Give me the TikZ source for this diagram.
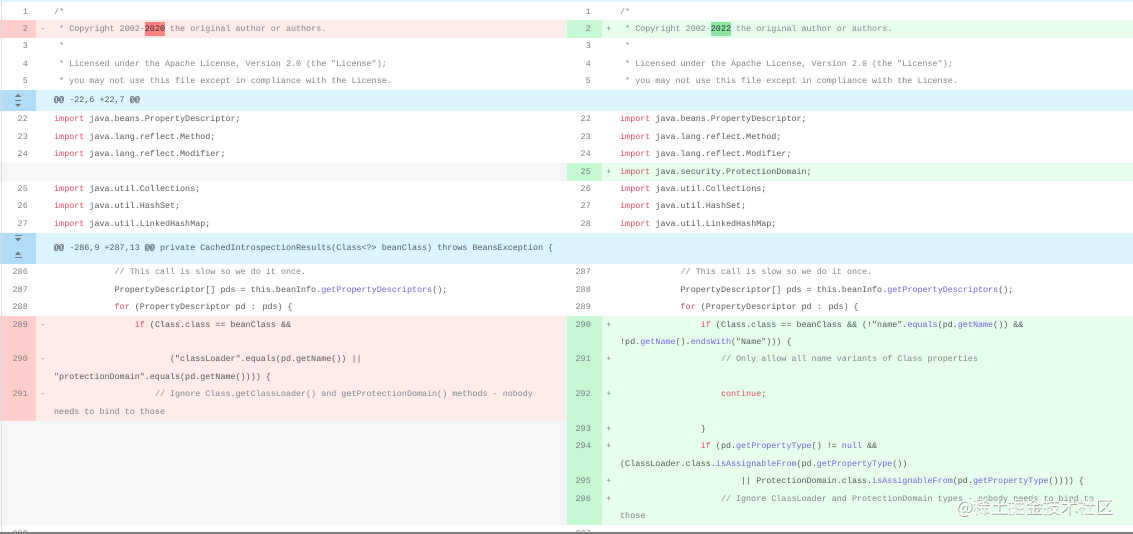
\documentclass[tikz,border=0pt]{standalone}
\usepackage{fontspec}
\newfontfamily\codefont{Liberation Mono}
\newfontfamily\cjkfont{Noto Sans CJK SC}
\definecolor{delbg}{HTML}{FFEBE9}
\definecolor{delnum}{HTML}{FFCECB}
\definecolor{delhl}{HTML}{FF8182}
\definecolor{addbg}{HTML}{E6FFEC}
\definecolor{addnum}{HTML}{C6F7D2}
\definecolor{addhl}{HTML}{8EE6A4}
\definecolor{hunkbg}{HTML}{DDF4FF}
\definecolor{hunknum}{HTML}{B0DCFA}
\definecolor{emptybg}{HTML}{F4F6F8}
\definecolor{codegray}{HTML}{50565C}
\definecolor{cmtgray}{HTML}{7A828A}
\definecolor{numgray}{HTML}{737B83}
\definecolor{kwred}{HTML}{D9485F}
\definecolor{mthblue}{HTML}{6F5FD8}
\definecolor{edgegray}{HTML}{7F7F7F}
\definecolor{bordergray}{HTML}{D8DEE4}
\definecolor{hltext}{HTML}{2A2E33}
\newcommand{\kw}[1]{{\color{kwred}#1}}
\newcommand{\mth}[1]{{\color{mthblue}#1}}
\newcommand{\hlt}[1]{{\color{hltext}#1}}
\def\chw{5.04}
\tikzset{
  codetext/.style={anchor=west, inner sep=0pt, text height=6pt, text depth=1.7pt,
    font=\codefont\fontsize{8.4}{10}\selectfont, text=codegray},
  cmt/.style={codetext, text=cmtgray},
  lnum/.style={codetext, anchor=east, text=numgray},
  sign/.style={codetext, anchor=center, text=numgray},
  foldicon/.style={fill=codegray!80, draw=none},
}
\begin{document}
\begin{tikzpicture}[x=1pt,y=-1pt]
            \useasboundingbox (0,0) rectangle (1133,534);
            % row backgrounds
            \fill[white] (0,0) rectangle (1133,534);
            \fill[hunkbg] (0,0) rectangle (1133,2.5);
            \fill[delbg] (0,20.5) rectangle (566,38);
            \fill[delnum] (0,20.5) rectangle (36,38);
            \fill[addbg] (566,20.5) rectangle (1133,38);
            \fill[addnum] (567,20.5) rectangle (602,38);
            \fill[hunkbg] (0,90) rectangle (1133,111);
            \fill[hunknum] (0,90) rectangle (36,111);
            \fill[emptybg] (0,163.2) rectangle (566,180.6);
            \fill[addbg] (566,163.2) rectangle (1133,180.6);
            \fill[addnum] (567,163.2) rectangle (602,180.6);
            \fill[hunkbg] (0,232.8) rectangle (1133,264);
            \fill[hunknum] (0,232.8) rectangle (36,264);
            \fill[delbg] (0,316.2) rectangle (566,420.6);
            \fill[delnum] (0,316.2) rectangle (36,420.6);
            \fill[emptybg] (0,420.6) rectangle (566,525);
            \fill[addbg] (566,316.2) rectangle (1133,525);
            \fill[addnum] (567,316.2) rectangle (602,525);
            \draw[bordergray, line width=0.8pt] (1.5,2.5) -- (1.5,532);
            % changed year
            \fill[delhl] (54+18*\chw,22.5) rectangle (54+22*\chw,36);
            \fill[addhl] (620+18*\chw,22.5) rectangle (620+22*\chw,36);
            % fold icons
            \fill[foldicon] (15,97) -- (21,97) -- (18,94) -- cycle;
            \fill[foldicon] (15,100) rectangle (21,100.8);
            \fill[foldicon] (15,103.8) -- (21,103.8) -- (18,106.8) -- cycle;
            \fill[foldicon] (14.5,235) rectangle (21.5,235.8);
            \fill[foldicon] (15,238) -- (21,238) -- (18,241.5) -- cycle;
            \fill[foldicon] (15,255) -- (21,255) -- (18,251.5) -- cycle;
            \fill[foldicon] (14.5,257.5) rectangle (21.5,258.3);
            % left side
            \node[lnum] (nl1) at (28,12) {1};
            \node[lnum] (nl2) at (28,29.3) {2};
            \node[lnum] (nl3) at (28,46.6) {3};
            \node[lnum] (nl4) at (28,63.9) {4};
            \node[lnum] (nl5) at (28,81.2) {5};
            \node[lnum] (nl22) at (28,119.7) {22};
            \node[lnum] (nl23) at (28,137.1) {23};
            \node[lnum] (nl24) at (28,154.5) {24};
            \node[lnum] (nl25) at (28,189.3) {25};
            \node[lnum] (nl26) at (28,206.7) {26};
            \node[lnum] (nl27) at (28,224.1) {27};
            \node[lnum] (nl286) at (28,272.7) {286};
            \node[lnum] (nl287) at (28,290.1) {287};
            \node[lnum] (nl288) at (28,307.5) {288};
            \node[lnum] (nl289) at (28,324.9) {289};
            \node[lnum] (nl290) at (28,359.7) {290};
            \node[lnum] (nl291) at (28,394.5) {291};
            \node[lnum] (nl303) at (28,534) {303};
            \node[sign] (sl2) at (43,29.3) {-};
            \node[sign] (sl289) at (43,324.9) {-};
            \node[sign] (sl290) at (43,359.7) {-};
            \node[sign] (sl291) at (43,394.5) {-};
            \node[cmt] (cl1) at (54,12) {/*};
            \node[cmt] (cl2) at (54+\chw,29.3) {* Copyright 2002-\hlt{2020} the original author or authors.};
            \node[cmt] (cl3) at (54+\chw,46.6) {*};
            \node[cmt] (cl4) at (54+\chw,63.9) {* Licensed under the Apache License, Version 2.0 (the "License");};
            \node[cmt] (cl5) at (54+\chw,81.2) {* you may not use this file except in compliance with the License.};
            \node[codetext] (hl1) at (54,100.5) {\hlt{@@} -22,6 +22,7 \hlt{@@}};
            \node[codetext] (cl22) at (54,119.7) {\kw{import} java.beans.PropertyDescriptor;};
            \node[codetext] (cl23) at (54,137.1) {\kw{import} java.lang.reflect.Method;};
            \node[codetext] (cl24) at (54,154.5) {\kw{import} java.lang.reflect.Modifier;};
            \node[codetext] (cl25) at (54,189.3) {\kw{import} java.util.Collections;};
            \node[codetext] (cl26) at (54,206.7) {\kw{import} java.util.HashSet;};
            \node[codetext] (cl27) at (54,224.1) {\kw{import} java.util.LinkedHashMap;};
            \node[codetext] (hl2) at (54,248.4) {\hlt{@@} -286,9 +287,13 \hlt{@@} private CachedIntrospectionResults(Class<?> beanClass) throws BeansException \{};
            \node[cmt] (cl286) at (54+12*\chw,272.7) {// This call is slow so we do it once.};
            \node[codetext] (cl287) at (54+12*\chw,290.1) {PropertyDescriptor[] pds = this.beanInfo.\mth{getPropertyDescriptors}();};
            \node[codetext] (cl288) at (54+12*\chw,307.5) {\kw{for} (PropertyDescriptor pd : pds) \{};
            \node[codetext] (cl289) at (54+16*\chw,324.9) {\kw{if} (Class.class == beanClass \&\&};
            \node[codetext] (cl290) at (54+23*\chw,359.7) {("classLoader".equals(pd.getName()) ||};
            \node[codetext] (cl290b) at (54,377.1) {"protectionDomain".equals(pd.getName()))) \{};
            \node[cmt] (cl291) at (54+20*\chw,394.5) {// Ignore Class.getClassLoader() and getProtectionDomain() methods - nobody};
            \node[cmt] (cl291b) at (54,411.9) {needs to bind to those};
            % right side
            \node[lnum] (nr1) at (591,12) {1};
            \node[lnum] (nr2) at (591,29.3) {2};
            \node[lnum] (nr3) at (591,46.6) {3};
            \node[lnum] (nr4) at (591,63.9) {4};
            \node[lnum] (nr5) at (591,81.2) {5};
            \node[lnum] (nr22) at (591,119.7) {22};
            \node[lnum] (nr23) at (591,137.1) {23};
            \node[lnum] (nr24) at (591,154.5) {24};
            \node[lnum] (nr25) at (591,171.9) {25};
            \node[lnum] (nr26) at (591,189.3) {26};
            \node[lnum] (nr27) at (591,206.7) {27};
            \node[lnum] (nr28) at (591,224.1) {28};
            \node[lnum] (nr287) at (591,272.7) {287};
            \node[lnum] (nr288) at (591,290.1) {288};
            \node[lnum] (nr289) at (591,307.5) {289};
            \node[lnum] (nr290) at (591,324.9) {290};
            \node[lnum] (nr291) at (591,359.7) {291};
            \node[lnum] (nr292) at (591,394.5) {292};
            \node[lnum] (nr293) at (591,429.3) {293};
            \node[lnum] (nr294) at (591,446.7) {294};
            \node[lnum] (nr295) at (591,481.5) {295};
            \node[lnum] (nr296) at (591,498.9) {296};
            \node[lnum] (nr307) at (591,534) {307};
            \node[sign] (sr2) at (609,29.3) {+};
            \node[sign] (sr25) at (609,171.9) {+};
            \node[sign] (sr290) at (609,324.9) {+};
            \node[sign] (sr291) at (609,359.7) {+};
            \node[sign] (sr292) at (609,394.5) {+};
            \node[sign] (sr293) at (609,429.3) {+};
            \node[sign] (sr294) at (609,446.7) {+};
            \node[sign] (sr295) at (609,481.5) {+};
            \node[sign] (sr296) at (609,498.9) {+};
            \node[cmt] (cr1) at (620,12) {/*};
            \node[cmt] (cr2) at (620+\chw,29.3) {* Copyright 2002-\hlt{2022} the original author or authors.};
            \node[cmt] (cr3) at (620+\chw,46.6) {*};
            \node[cmt] (cr4) at (620+\chw,63.9) {* Licensed under the Apache License, Version 2.0 (the "License");};
            \node[cmt] (cr5) at (620+\chw,81.2) {* you may not use this file except in compliance with the License.};
            \node[codetext] (cr22) at (620,119.7) {\kw{import} java.beans.PropertyDescriptor;};
            \node[codetext] (cr23) at (620,137.1) {\kw{import} java.lang.reflect.Method;};
            \node[codetext] (cr24) at (620,154.5) {\kw{import} java.lang.reflect.Modifier;};
            \node[codetext] (cr25) at (620,171.9) {\kw{import} java.security.ProtectionDomain;};
            \node[codetext] (cr26) at (620,189.3) {\kw{import} java.util.Collections;};
            \node[codetext] (cr27) at (620,206.7) {\kw{import} java.util.HashSet;};
            \node[codetext] (cr28) at (620,224.1) {\kw{import} java.util.LinkedHashMap;};
            \node[cmt] (cr287) at (620+12*\chw,272.7) {// This call is slow so we do it once.};
            \node[codetext] (cr288) at (620+12*\chw,290.1) {PropertyDescriptor[] pds = this.beanInfo.\mth{getPropertyDescriptors}();};
            \node[codetext] (cr289) at (620+12*\chw,307.5) {\kw{for} (PropertyDescriptor pd : pds) \{};
            \node[codetext] (cr290) at (620+16*\chw,324.9) {\kw{if} (Class.class == beanClass \&\& (!"name".\mth{equals}(pd.\mth{getName}()) \&\&};
            \node[codetext] (cr290b) at (620,342.3) {!pd.\mth{getName}().\mth{endsWith}("Name"))) \{};
            \node[cmt] (cr291) at (620+20*\chw,359.7) {// Only allow all name variants of Class properties};
            \node[codetext] (cr292) at (620+20*\chw,394.5) {\kw{continue};};
            \node[codetext] (cr293) at (620+16*\chw,429.3) {\}};
            \node[codetext] (cr294) at (620+16*\chw,446.7) {\kw{if} (pd.\mth{getPropertyType}() != \mth{null} \&\&};
            \node[codetext] (cr294b) at (620,464.1) {(ClassLoader.class.\mth{isAssignableFrom}(pd.\mth{getPropertyType}())};
            \node[codetext] (cr295) at (620+24*\chw,481.5) {|| ProtectionDomain.class.\mth{isAssignableFrom}(pd.\mth{getPropertyType}()))) \{};
            \node[cmt] (cr296) at (620+20*\chw,498.9) {// Ignore ClassLoader and ProtectionDomain types - nobody needs to bind to};
            \node[cmt] (cr296b) at (620,516.3) {those};
            % watermark and lower edge
            \node[anchor=center, inner sep=0pt, font=\cjkfont\fontsize{17.5}{20}\selectfont, text=gray!75] (wmshade) at (1035.6,508.6) {@稀土掘金技术社区};
            \node[anchor=center, inner sep=0pt, font=\cjkfont\fontsize{17.5}{20}\selectfont, text=white] (wm) at (1035,508) {@稀土掘金技术社区};
            \fill[edgegray] (0,532) rectangle (1133,534);
\end{tikzpicture}
\end{document}
